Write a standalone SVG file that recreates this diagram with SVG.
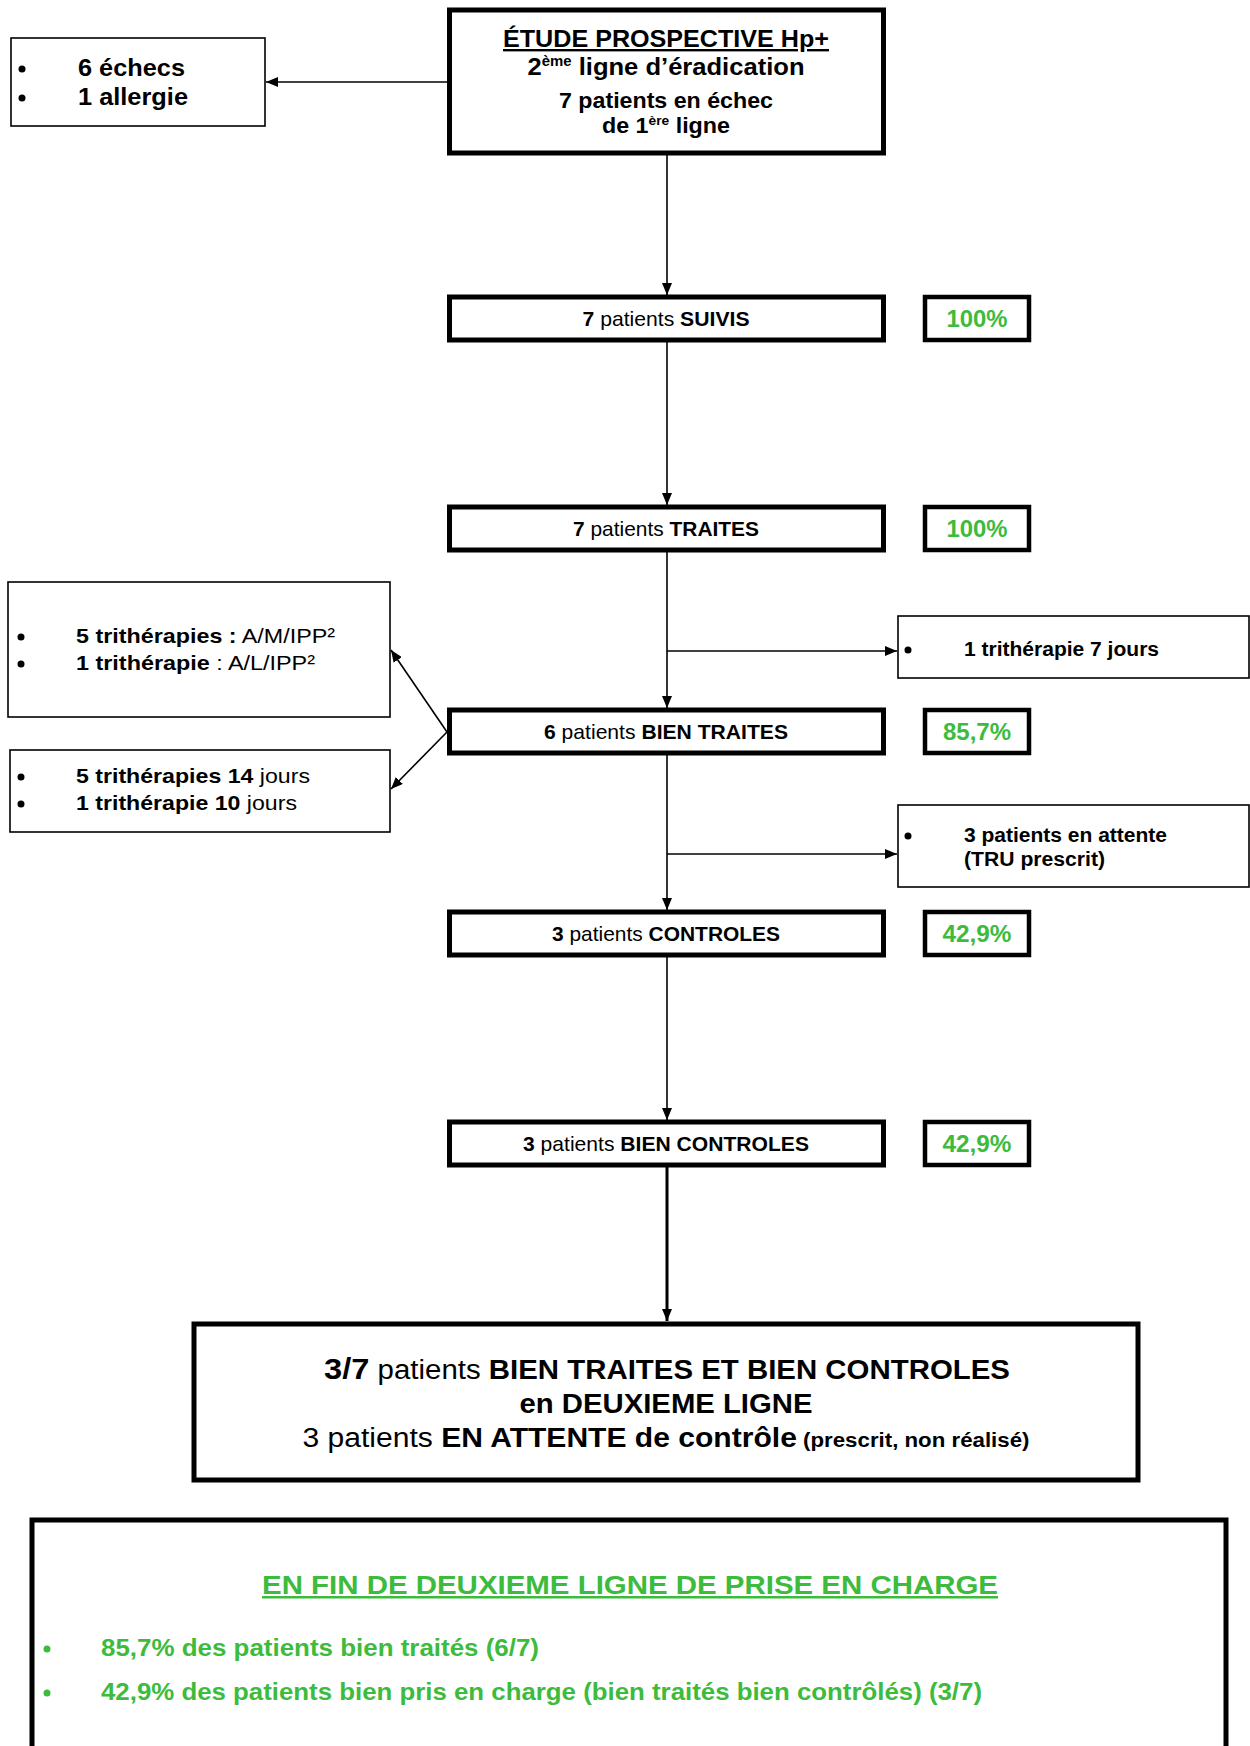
<svg xmlns="http://www.w3.org/2000/svg" width="1250" height="1746" viewBox="0 0 1250 1746">
<defs>
<style>
text{font-family:"Liberation Sans",Arial,sans-serif;fill:#000}
.b{font-weight:bold}
.n{font-weight:normal}
.thick{fill:#fff;stroke:#000;stroke-width:5}
.pct{fill:#fff;stroke:#000;stroke-width:4.5}
.thin{fill:#fff;stroke:#000;stroke-width:1.6}
.g{fill:#3dbb3d}
.c{text-anchor:middle}
.ln{stroke:#000;stroke-width:1.6;fill:none}
</style>
<marker id="ah" markerUnits="userSpaceOnUse" viewBox="0 0 12 10" refX="12" refY="5" markerWidth="12" markerHeight="10" orient="auto">
<path d="M0,0 L12,5 L0,10 z" fill="#000"/>
</marker>
</defs>
<rect width="1250" height="1746" fill="#fff"/>

<g id="connectors">
<line class="ln" x1="447" y1="82" x2="266" y2="82" marker-end="url(#ah)"/>
<line class="ln" x1="667" y1="154" x2="667" y2="295" marker-end="url(#ah)"/>
<line class="ln" x1="667" y1="342" x2="667" y2="505" marker-end="url(#ah)"/>
<line class="ln" x1="667" y1="552" x2="667" y2="708" marker-end="url(#ah)"/>
<line class="ln" x1="667" y1="651" x2="897" y2="651" marker-end="url(#ah)"/>
<line class="ln" x1="667" y1="755" x2="667" y2="910" marker-end="url(#ah)"/>
<line class="ln" x1="667" y1="854" x2="897" y2="854" marker-end="url(#ah)"/>
<line class="ln" x1="667" y1="957" x2="667" y2="1120" marker-end="url(#ah)"/>
<line class="ln" style="stroke-width:3" x1="667" y1="1167" x2="667" y2="1321" marker-end="url(#ah)"/>
<line class="ln" x1="447" y1="732" x2="391" y2="650" marker-end="url(#ah)"/>
<line class="ln" x1="447" y1="732" x2="391" y2="789" marker-end="url(#ah)"/>
</g>

<g id="n-etude">
<rect class="thick" x="449.5" y="10" width="434" height="143"/>
<text class="b c" x="666" y="47" font-size="24" textLength="326" lengthAdjust="spacingAndGlyphs" text-decoration="underline">ÉTUDE PROSPECTIVE Hp+</text>
<text class="b c" x="666" y="75" font-size="24" textLength="277" lengthAdjust="spacingAndGlyphs">2<tspan font-size="14" dy="-9">ème</tspan><tspan dy="9"> ligne d’éradication</tspan></text>
<text class="b c" x="666" y="108" font-size="22" textLength="214" lengthAdjust="spacingAndGlyphs">7 patients en échec</text>
<text class="b c" x="666" y="133" font-size="22" textLength="128" lengthAdjust="spacingAndGlyphs">de 1<tspan font-size="13" dy="-8">ère</tspan><tspan dy="8"> ligne</tspan></text>
</g>

<g id="n-echecs">
<rect class="thin" x="11" y="38" width="254" height="88"/>
<circle cx="22" cy="69" r="3.5"/>
<circle cx="22" cy="98" r="3.5"/>
<text class="b" x="78" y="76" font-size="24" textLength="107" lengthAdjust="spacingAndGlyphs">6 échecs</text>
<text class="b" x="78" y="105" font-size="24" textLength="110" lengthAdjust="spacingAndGlyphs">1 allergie</text>
</g>

<g id="n-suivis">
<rect class="thick" x="449.5" y="297" width="434" height="43"/>
<text class="c" x="666" y="326" font-size="21" textLength="167" lengthAdjust="spacingAndGlyphs"><tspan class="b">7</tspan> patients <tspan class="b">SUIVIS</tspan></text>
</g>
<g id="p-suivis">
<rect class="pct" x="925" y="297" width="104" height="43"/>
<text class="b c g" x="977" y="327" font-size="23" textLength="61" lengthAdjust="spacingAndGlyphs">100%</text>
</g>

<g id="n-traites">
<rect class="thick" x="449.5" y="507" width="434" height="43"/>
<text class="c" x="666" y="536" font-size="21" textLength="186" lengthAdjust="spacingAndGlyphs"><tspan class="b">7</tspan> patients <tspan class="b">TRAITES</tspan></text>
</g>
<g id="p-traites">
<rect class="pct" x="925" y="507" width="104" height="43"/>
<text class="b c g" x="977" y="537" font-size="23" textLength="61" lengthAdjust="spacingAndGlyphs">100%</text>
</g>

<g id="n-tritherapies">
<rect class="thin" x="8" y="582" width="382" height="135"/>
<circle cx="21" cy="637" r="3.5"/>
<circle cx="21" cy="664" r="3.5"/>
<text x="76" y="643" font-size="21" textLength="259" lengthAdjust="spacingAndGlyphs"><tspan class="b">5 trithérapies :</tspan> A/M/IPP²</text>
<text x="76" y="670" font-size="21" textLength="239" lengthAdjust="spacingAndGlyphs"><tspan class="b">1 trithérapie</tspan> : A/L/IPP²</text>
</g>

<g id="n-durees">
<rect class="thin" x="10" y="750" width="380" height="82"/>
<circle cx="21" cy="777" r="3.5"/>
<circle cx="21" cy="804" r="3.5"/>
<text x="76" y="783" font-size="21" textLength="234" lengthAdjust="spacingAndGlyphs"><tspan class="b">5 trithérapies 14</tspan> jours</text>
<text x="76" y="810" font-size="21" textLength="221" lengthAdjust="spacingAndGlyphs"><tspan class="b">1 trithérapie 10</tspan> jours</text>
</g>

<g id="n-7jours">
<rect class="thin" x="898" y="616" width="351" height="62"/>
<circle cx="908" cy="650" r="3.5"/>
<text class="b" x="964" y="656" font-size="20" textLength="195" lengthAdjust="spacingAndGlyphs">1 trithérapie 7 jours</text>
</g>

<g id="n-bien-traites">
<rect class="thick" x="449.5" y="710" width="434" height="43"/>
<text class="c" x="666" y="739" font-size="21" textLength="244" lengthAdjust="spacingAndGlyphs"><tspan class="b">6</tspan> patients <tspan class="b">BIEN TRAITES</tspan></text>
</g>
<g id="p-bien-traites">
<rect class="pct" x="925" y="710" width="104" height="43"/>
<text class="b c g" x="977" y="740" font-size="23" textLength="68" lengthAdjust="spacingAndGlyphs">85,7%</text>
</g>

<g id="n-attente">
<rect class="thin" x="898" y="805" width="351" height="82"/>
<circle cx="908" cy="836" r="3.5"/>
<text class="b" x="964" y="842" font-size="20" textLength="203" lengthAdjust="spacingAndGlyphs">3 patients en attente</text>
<text class="b" x="964" y="866" font-size="20" textLength="141" lengthAdjust="spacingAndGlyphs">(TRU prescrit)</text>
</g>

<g id="n-controles">
<rect class="thick" x="449.5" y="912" width="434" height="43"/>
<text class="c" x="666" y="941" font-size="21" textLength="228" lengthAdjust="spacingAndGlyphs"><tspan class="b">3</tspan> patients <tspan class="b">CONTROLES</tspan></text>
</g>
<g id="p-controles">
<rect class="pct" x="925" y="912" width="104" height="43"/>
<text class="b c g" x="977" y="942" font-size="23" textLength="69" lengthAdjust="spacingAndGlyphs">42,9%</text>
</g>

<g id="n-bien-controles">
<rect class="thick" x="449.5" y="1122" width="434" height="43"/>
<text class="c" x="666" y="1151" font-size="21" textLength="286" lengthAdjust="spacingAndGlyphs"><tspan class="b">3</tspan> patients <tspan class="b">BIEN CONTROLES</tspan></text>
</g>
<g id="p-bien-controles">
<rect class="pct" x="925" y="1122" width="104" height="43"/>
<text class="b c g" x="977" y="1152" font-size="23" textLength="69" lengthAdjust="spacingAndGlyphs">42,9%</text>
</g>

<g id="n-synthese">
<rect class="thick" x="194" y="1324" width="944" height="156"/>
<text class="c" x="667" y="1379" font-size="27" textLength="686" lengthAdjust="spacingAndGlyphs"><tspan class="b" font-size="30">3/7</tspan> patients <tspan class="b">BIEN TRAITES ET BIEN CONTROLES</tspan></text>
<text class="b c" x="666" y="1413" font-size="27" textLength="293" lengthAdjust="spacingAndGlyphs">en DEUXIEME LIGNE</text>
<text class="c" x="666" y="1447" font-size="27" textLength="727" lengthAdjust="spacingAndGlyphs">3 patients <tspan class="b">EN ATTENTE de contrôle</tspan><tspan class="b" font-size="20"> (prescrit, non réalisé)</tspan></text>
</g>

<g id="n-fin">
<rect class="thick" x="32" y="1520" width="1194" height="300"/>
<text class="b c g" x="630" y="1594" font-size="25" textLength="736" lengthAdjust="spacingAndGlyphs" text-decoration="underline">EN FIN DE DEUXIEME LIGNE DE PRISE EN CHARGE</text>
<circle class="g" cx="47" cy="1649" r="3.5"/>
<circle class="g" cx="47" cy="1693" r="3.5"/>
<text class="b g" x="101" y="1656" font-size="24" textLength="438" lengthAdjust="spacingAndGlyphs">85,7% des patients bien traités (6/7)</text>
<text class="b g" x="101" y="1700" font-size="24" textLength="881" lengthAdjust="spacingAndGlyphs">42,9% des patients bien pris en charge (bien traités bien contrôlés) (3/7)</text>
</g>
</svg>
